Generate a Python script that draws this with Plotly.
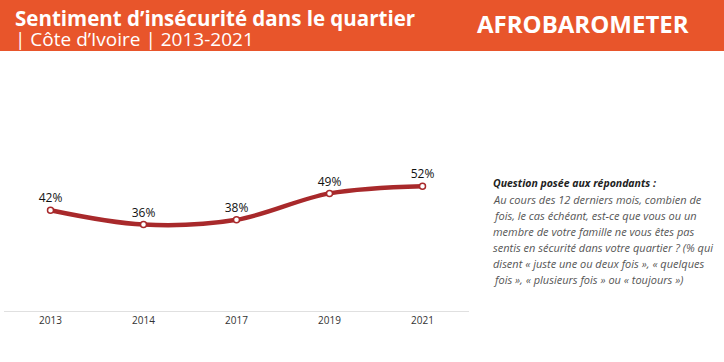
import plotly.graph_objects as go

years = ["2013", "2014", "2017", "2019", "2021"]
values = [42, 36, 38, 49, 52]
labels = ["42%", "36%", "38%", "49%", "52%"]

title = "Sentiment d’insécurité dans le quartier"
subtitle = "| Côte d’Ivoire | 2013-2021"
brand = "AFROBAROMETER"
q_head = "Question posée aux répondants :"
q_lines = [
    "Au cours des 12 derniers mois, combien de",
    "fois, le cas échéant, est-ce que vous ou un",
    "membre de votre famille ne vous êtes pas",
    "sentis en sécurité dans votre quartier ? (% qui",
    "disent « juste une ou deux fois », « quelques",
    "fois », « plusieurs fois » ou « toujours »)",
]

W, H = 724, 362
L, R, T, B = 4, 469, 71, 311  # plot area in pixels

def px(x):
    return (x - L) / (R - L)

def py(y):
    return (B - y) / (B - T)

fig = go.Figure()
fig.add_trace(go.Scatter(
    x=years, y=values, mode="lines+markers+text",
    line=dict(color="#A8292B", width=4.5, shape="spline", smoothing=1.0),
    marker=dict(size=6, color="white", line=dict(color="#A8292B", width=1.5)),
    text=labels, textposition="top center",
    textfont=dict(family="Open Sans", size=12, color="#111"),
    cliponaxis=False, hoverinfo="skip",
))

shapes = [
    dict(type="rect", xref="paper", yref="paper", x0=px(0), x1=px(W), y0=py(51), y1=py(0),
         fillcolor="#E8552B", line=dict(width=0), layer="below"),
]

header_text = ("<span style='font-size:20.5px'><b>" + title + "</b></span><br>"
               "<span style='font-size:19px'>" + subtitle + "</span>")

ann = [
    dict(text=header_text, x=px(13), y=py(28), xanchor="left", yanchor="middle", align="left",
         font=dict(family="Open Sans", size=15.5, color="white")),
    dict(text="<b>" + brand + "</b>", x=px(583), y=py(23), xanchor="center", yanchor="middle",
         font=dict(family="Open Sans", size=24, color="white")),
    dict(text="<b><i>" + q_head + "</i></b>", x=px(491), y=py(183), xanchor="left", yanchor="middle",
         font=dict(family="Open Sans", size=10.5, color="#222")),
]
for i, line in enumerate(q_lines):
    ann.append(dict(text="<i>" + line + "</i>", x=px(491), y=py(199 + i * 16),
                    xanchor="left", yanchor="middle",
                    font=dict(family="Open Sans", size=11, color="#555")))
for a in ann:
    a.update(xref="paper", yref="paper", showarrow=False)

fig.update_layout(
    width=W, height=H,
    margin=dict(l=L, r=W - R, t=T, b=H - B, pad=0),
    paper_bgcolor="white", plot_bgcolor="white",
    showlegend=False,
    shapes=shapes, annotations=ann,
    xaxis=dict(type="category", range=[-0.5, 4.5], showgrid=False, zeroline=False,
               showline=True, linecolor="#e0e0e0", linewidth=1,
               ticks="", tickfont=dict(family="Open Sans", size=10, color="#333"),
               fixedrange=True),
    yaxis=dict(range=[0, 100], visible=False, fixedrange=True),
)

fig.write_html("out.html", config={"displayModeBar": False},
               post_script="document.body.style.margin='0';document.body.style.overflow='hidden';")
